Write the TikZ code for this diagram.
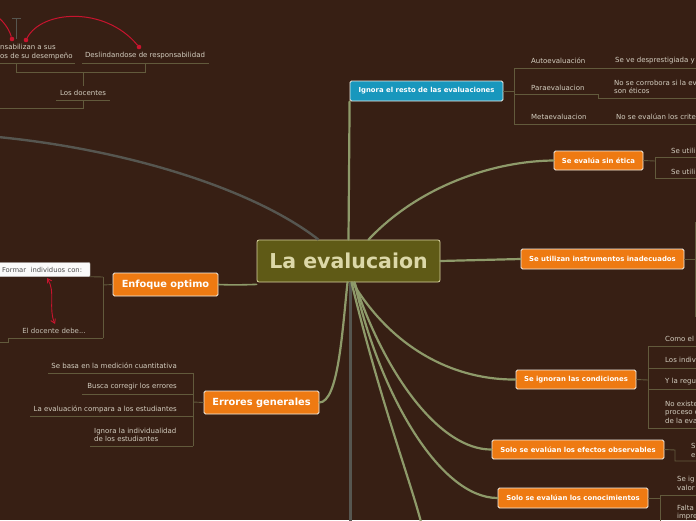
\documentclass[tikz,border=0pt]{standalone}
\usepackage{fontspec}
\setmainfont{DejaVu Sans}
\usetikzlibrary{arrows.meta}
\definecolor{bg}{HTML}{371F14}
\definecolor{corange}{HTML}{EE7A12}
\definecolor{ccyan}{HTML}{1897BD}
\definecolor{cbord}{HTML}{F2EEE6}
\definecolor{colive}{HTML}{5F5A16}
\definecolor{coliveb}{HTML}{D8D3A0}
\definecolor{colivet}{HTML}{DCD8A8}
\definecolor{branchc}{HTML}{8E9A6A}
\definecolor{grayc}{HTML}{565650}
\definecolor{brkc}{HTML}{625A3C}
\definecolor{leaftxt}{HTML}{D4CEC0}
\definecolor{redc}{HTML}{C8142E}
\begin{document}
\begin{tikzpicture}[x=1pt,y=-1pt,
  mainbox/.style={draw=cbord, line width=0.8pt, rounded corners=1.5pt, fill=corange, text=white,
    font=\fontsize{6.9}{8}\selectfont\bfseries, inner sep=0pt, minimum height=19pt},
  bigbox/.style={mainbox, font=\fontsize{9.8}{11}\selectfont\bfseries, minimum height=23pt},
  leaf/.style={text=leaftxt, font=\fontsize{7}{8.6}\selectfont, inner sep=0pt, align=left},
  branch/.style={draw=branchc, line width=2.2pt, line cap=round},
  brk/.style={draw=brkc, line width=0.9pt},
  reddot/.style={fill=redc, circle, inner sep=0pt, minimum size=4.6pt}]
\useasboundingbox (0,0) rectangle (696,520);
\fill[bg] (0,0) rectangle (696,520);
\clip (0,0) rectangle (696,520);

% ---- nodes ----
\node[draw=coliveb, line width=0.8pt, rounded corners=2pt, fill=colive, text=colivet,
  font=\fontsize{20.5}{22}\selectfont\bfseries, minimum width=183pt, minimum height=42pt, inner sep=0pt]
  (c) at (348.5,261) {La evalucaion};

\node[mainbox, fill=ccyan, minimum width=153pt, minimum height=20pt] (ig) at (426.5,91) {Ignora el resto de las evaluaciones};
\node[mainbox, minimum width=89pt] (se) at (598.5,160.5) {Se evalúa sin ética};
\node[mainbox, minimum width=163pt, minimum height=20pt] (in) at (602.5,259) {Se utilizan instrumentos inadecuados};
\node[mainbox, minimum width=120pt] (co) at (576,379.5) {Se ignoran las condiciones};
\node[mainbox, minimum width=172pt] (ef) at (578,449.5) {Solo se evalúan los efectos observables};
\node[mainbox, minimum width=150pt, minimum height=20pt] (cn) at (573,498) {Solo se evalúan los conocimientos};
\node[bigbox, minimum width=105pt] (en) at (165.5,284.5) {Enfoque optimo};
\node[bigbox, minimum width=115pt] (er) at (261.5,402.5) {Errores generales};

% ---- branch connectors ----
\coordinate (cb) at (350,282);
\coordinate (bot) at (421,522);
\draw[draw=grayc, line width=3pt] (cb) -- (350,522);
\coordinate (ul) at (-2,137);
\draw[draw=grayc, line width=2.4pt] (ul) .. controls (130,150) and (255,190) .. ([xshift=-30pt]c.north);
\draw[branch] (c.north) -- (ig.south west);
\draw[branch] ([xshift=20pt]c.north) .. controls (420,185) and (495,161) .. (se.west);
\draw[branch] (c.east) -- (in.west);
\draw[branch] ([xshift=4pt]c.south) .. controls (390,345) and (450,380) .. (co.west);
\draw[branch] ([xshift=6pt]c.south) .. controls (385,375) and (440,450) .. (ef.west);
\draw[branch] ([xshift=6pt]c.south) .. controls (380,395) and (440,498) .. (cn.west);
\draw[branch] ([xshift=3pt]c.south) .. controls (380,400) and (410,480) .. (bot);
\draw[branch] ([xshift=-1pt]c.south) .. controls (342,335) and (338,402) .. (er.east);
\draw[branch, line width=1.6pt] ([yshift=-2pt]c.south west) .. controls (240,285) and (230,285) .. (en.east);

% ---- Ignora el resto ----
\coordinate (igj) at (514,91);
\draw[brk] (ig.east) -- (igj);
\draw[brk] (514,68) -- (514,124);
\draw[brk] (514,68) -- (697,68);
\draw[brk] (514,94) -- (598,94) -- (598,98) -- (697,98);
\draw[brk] (514,124) -- (697,124);
\node[leaf, anchor=west] (a1) at (531,61) {Autoevaluación};
\node[leaf, anchor=west] (a2) at (615,61) {Se ve desprestigiada y};
\node[leaf, anchor=west] (p1) at (531,88) {Paraevaluacion};
\node[leaf, anchor=west] (p2) at (614,87) {No se corrobora si la ev\\son éticos};
\node[leaf, anchor=west] (m1) at (531,117) {Metaevaluacion};
\node[leaf, anchor=west] (m2) at (616,117) {No se evalúan los crite};

% ---- Se evalua sin etica ----
\coordinate (sej) at (655,161);
\draw[brk] (se.east) -- (sej);
\draw[brk] (655,157) -- (655,178);
\draw[brk] (655,157) -- (697,157);
\draw[brk] (655,178) -- (697,178);
\node[leaf, anchor=west] (s1) at (671,151) {Se utili};
\node[leaf, anchor=west] (s2) at (671,172) {Se utili};

% ---- Instrumentos ----
\coordinate (inj) at (695,259);
\draw[brk] (in.east) -- (inj);
\draw[brk] (695,222) -- (695,317);

% ---- Condiciones ----
\coordinate (coj) at (648,380);
\draw[brk] (co.east) -- (coj);
\draw[brk] (648,346) -- (648,428);
\foreach \yy in {346,368,389,428} {\draw[brk] (648,\yy) -- (697,\yy);}
\node[leaf, anchor=west] (k1) at (665,339) {Como el};
\node[leaf, anchor=west] (k2) at (665,360) {Los indiv};
\node[leaf, anchor=west] (k3) at (665,382) {Y la regu};
\node[leaf, anchor=west] (k4) at (665,412) {No existe\\proceso d\\de la eva};

% ---- Efectos ----
\coordinate (efj) at (675,450);
\draw[brk] (ef.east) -- (efj) -- (675,461) -- (697,461);
\node[leaf, anchor=west] (e1) at (691,450.5) {S\\e};

% ---- Conocimientos ----
\coordinate (cnj) at (660,498);
\draw[brk] (cn.east) -- (cnj);
\draw[brk] (660,495) -- (660,522);
\draw[brk] (660,495) -- (697,495);
\node[leaf, anchor=west] (n1) at (677,483.5) {Se ig\\valor};
\node[leaf, anchor=west] (n2) at (677,512.5) {Falta\\impre};

% ---- Errores generales ----
\coordinate (erj) at (193,402);
\draw[brk] (er.west) -- (erj);
\draw[brk] (193,373) -- (193,446);
\draw[brk] (48,373) -- (193,373);
\draw[brk] (82,394) -- (193,394);
\draw[brk] (30,416) -- (193,416);
\draw[brk] (90,446) -- (193,446);
\node[leaf, anchor=east] (r1) at (177,366) {Se basa en la medición cuantitativa};
\node[leaf, anchor=east] (r2) at (177,387) {Busca corregir los errores};
\node[leaf, anchor=east] (r3) at (177,409) {La evaluación compara a los estudiantes};
\node[leaf, anchor=west] (r4) at (94,435) {Ignora la individualidad\\de los estudiantes};

% ---- Enfoque optimo ----
\coordinate (enj) at (103,285);
\draw[brk] (en.west) -- (enj);
\draw[brk] (103,277) -- (103,338);
\node[draw=gray!40, fill=white!96!gray, rounded corners=1pt, minimum height=14pt,
  inner ysep=0pt, inner xsep=4pt, text=black!70, font=\fontsize{6.8}{8}\selectfont, text width=84pt, align=left]
  (fo) at (44,269.5) {Formar\ \ individuos con:};
\draw[brk] (fo.south east) -- (103,277);
\node[leaf, text=leaftxt!85!gray] (ed) at (54,331) {El docente debe...};
\draw[brk] (103,338) -- (8,338) -- (8,342) -- (-2,342);
\coordinate (ra) at (47,278);
\coordinate (rb) at (55,324);
\draw[redc, line width=0.9pt, {Straight Barb[length=4pt,width=5pt]}-{Straight Barb[length=4pt,width=5pt]}]
  (ra) .. controls (56,292) and (48,308) .. (rb);

% ---- Top left group ----
\node[leaf, anchor=west] (t1) at (0,52) {nsabilizan a sus\\os de su desempeño};
\node[leaf] (t2) at (145,56) {Deslindandose de responsabilidad};
\node[leaf] (t3) at (83,93) {Los docentes};
\draw[brk] (-2,63) -- (75,63);
\draw[brk] (82,63) -- (209,63);
\draw[brk] (16,63) -- (16,72) -- (145,72) -- (145,63);
\draw[brk] (83,72) -- (83,86);
\draw[brk] (56,100) -- (110,100);
\draw[brk] (83,100) -- (83,108) -- (-2,108);
\draw[draw=grayc, line width=0.9pt] (16,39) -- (16,18);
\draw[draw=grayc, line width=0.9pt] (12,18) -- (21,18);
\node[reddot] (d1) at (12,39) {};
\node[reddot] (d2) at (26,40) {};
\node[reddot] (d3) at (139,47) {};
\coordinate (rt) at (-1,18);
\draw[redc, line width=1pt] (rt) .. controls (6,24) and (10,32) .. (d1);
\draw[redc, line width=1pt] (d2) .. controls (42,10) and (105,6) .. (d3);
\end{tikzpicture}
\end{document}
